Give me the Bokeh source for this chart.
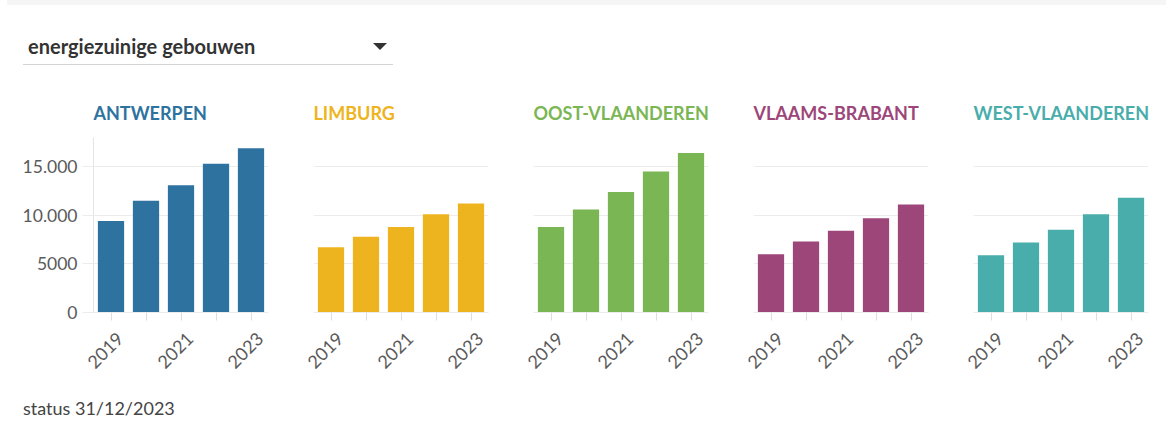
import math
from bokeh.plotting import figure
from bokeh.models import ColumnDataSource, FixedTicker, Div, LinearAxis, Range1d
from bokeh.layouts import row, column
from bokeh.embed import file_html
from bokeh.resources import INLINE

# ---- data ----
years = [2019, 2020, 2021, 2022, 2023]
x_tick_labels = ["2019", "", "2021", "", "2023"]
provinces = ["ANTWERPEN", "LIMBURG", "OOST-VLAANDEREN", "VLAAMS-BRABANT", "WEST-VLAANDEREN"]
colors = ["#2e72a0", "#eeb420", "#7bb655", "#9c4679", "#48adab"]
antwerpen = [9400, 11500, 13100, 15300, 16900]
limburg = [6700, 7800, 8800, 10100, 11200]
oost_vlaanderen = [8800, 10600, 12400, 14500, 16400]
vlaams_brabant = [6000, 7300, 8400, 9700, 11100]
west_vlaanderen = [5900, 7200, 8500, 10100, 11800]
series = [antwerpen, limburg, oost_vlaanderen, vlaams_brabant, west_vlaanderen]
y_ticks = [0, 5000, 10000, 15000]
y_tick_labels = ["0", "5000", "10.000", "15.000"]
y_max = 18000
dropdown_label = "energiezuinige gebouwen"
footer_text = "status 31/12/2023"

FONT = "Lato"
GRID = "#ececec"
TICK_COL = "#5a5a5a"
LABEL_SHIFT = 0.26  # rotated year labels sit slightly right of their tick


def make_panel(i, name, vals, color):
    first = i == 0
    last = i == len(provinces) - 1
    left = 93 if first else 23
    right = 15 if last else 22
    x0, x1 = years[0] - 0.5, years[-1] + 0.5
    p = figure(width=left + 175 + right, height=300,
               x_range=(x0, x1), y_range=(0, y_max),
               x_axis_location=None,
               output_backend="svg", toolbar_location=None,
               min_border_left=left, min_border_right=right,
               min_border_top=53, min_border_bottom=72,
               outline_line_color=None, title=name)
    p.title.align = "left"
    p.title.text_color = color
    p.title.text_font = FONT
    p.title.text_font_style = "bold"
    p.title.text_font_size = "18px"
    p.title.padding = {"left": 0, "right": 0, "top": 0, "bottom": 9}

    src = ColumnDataSource(dict(year=years, value=vals))
    p.vbar(x="year", top="value", width=0.75, source=src,
           fill_color=color, line_color=None)

    # x axis 1: baseline + tick marks
    ax_t = LinearAxis(ticker=FixedTicker(ticks=years, minor_ticks=[]))
    ax_t.major_label_text_font_size = "0px"
    ax_t.major_label_text_alpha = 0
    ax_t.major_label_standoff = 0
    ax_t.axis_line_color = GRID
    ax_t.major_tick_line_color = "#dddddd"
    ax_t.major_tick_out = 8
    ax_t.major_tick_in = 0
    ax_t.minor_tick_line_color = None
    p.add_layout(ax_t, "below")

    # x axis 2: rotated year labels
    p.extra_x_ranges = {"lab": Range1d(x0 - LABEL_SHIFT, x1 - LABEL_SHIFT)}
    ax_l = LinearAxis(x_range_name="lab", ticker=FixedTicker(ticks=years, minor_ticks=[]))
    ax_l.major_label_overrides = {y: l for y, l in zip(years, x_tick_labels)}
    ax_l.major_label_orientation = math.pi / 4
    ax_l.major_label_text_font = FONT
    ax_l.major_label_text_font_size = "18px"
    ax_l.major_label_text_color = TICK_COL
    ax_l.major_label_standoff = 15
    ax_l.axis_line_color = None
    ax_l.major_tick_line_color = None
    ax_l.major_tick_out = 0
    ax_l.major_tick_in = 0
    ax_l.minor_tick_line_color = None
    p.add_layout(ax_l, "below")

    # y axis
    ya = p.yaxis[0]
    ya.ticker = FixedTicker(ticks=y_ticks, minor_ticks=[])
    p.ygrid.ticker = FixedTicker(ticks=y_ticks, minor_ticks=[])
    ya.major_label_overrides = {t: l for t, l in zip(y_ticks, y_tick_labels)}
    ya.major_label_text_font = FONT
    ya.major_label_text_font_size = "17.5px"
    ya.major_label_text_color = TICK_COL
    ya.axis_line_color = "#e4e4e4"
    ya.major_tick_line_color = GRID
    ya.major_tick_out = 11
    ya.major_tick_in = 0
    ya.minor_tick_line_color = None
    ya.major_label_standoff = 5
    if not first:
        ya.visible = False

    p.xgrid.grid_line_color = None
    p.ygrid.grid_line_color = GRID
    p.ygrid.grid_line_width = 1
    return p


panels = [make_panel(i, n, v, c) for i, (n, v, c) in enumerate(zip(provinces, series, colors))]

header_html = (
    '<div style="position:relative;width:1155px;height:74px;">'
    '<div style="position:absolute;left:2px;top:-8px;width:1159px;height:8px;'
    'background:#f5f5f5;"></div>'
    '<div style="position:absolute;left:18px;top:0px;width:370px;height:60px;'
    'border-bottom:1px solid #d4d4d4;"></div>'
    f'<div style="position:absolute;left:23px;top:28px;font-family:Lato;font-weight:bold;'
    f'font-size:20px;line-height:26px;color:#333333;white-space:nowrap;">{dropdown_label}</div>'
    '<div style="position:absolute;left:368px;top:38px;width:0;height:0;'
    'border-left:7px solid transparent;border-right:7px solid transparent;'
    'border-top:7px solid #333333;"></div>'
    '</div>'
)
header = Div(text=header_html, width=1155, height=74)

footer_html = (
    '<div style="position:relative;width:1155px;height:28px;">'
    f'<div style="position:absolute;left:18px;top:8px;font-family:Lato;font-size:18px;'
    f'line-height:22px;color:#444444;white-space:nowrap;">{footer_text}</div>'
    '</div>'
)
footer = Div(text=footer_html, width=1155, height=28)

layout = column(header, row(*panels, spacing=0), footer, spacing=0)

open("out.html", "w").write(file_html(layout, INLINE))
